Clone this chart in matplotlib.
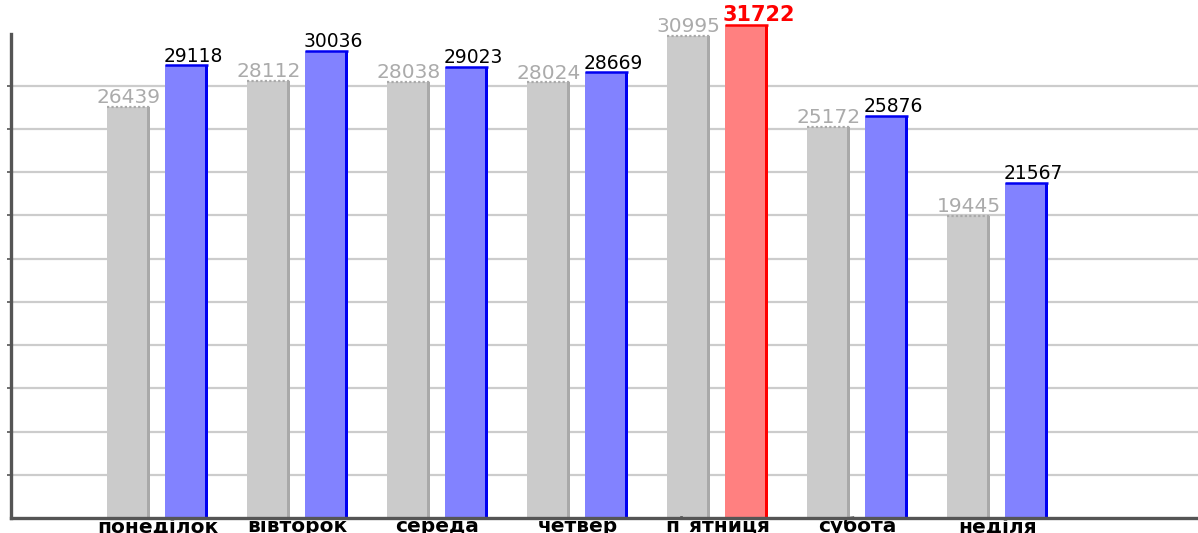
import numpy as np
import matplotlib
matplotlib.use("Agg")
import matplotlib.pyplot as plt

# ---- data ----
days = ["понеділок", "вівторок", "середа", "четвер", "п`ятниця", "субота", "неділя"]
previous = [26439, 28112, 28038, 28024, 30995, 25172, 19445]
current = [29118, 30036, 29023, 28669, 31722, 25876, 21567]

# ---- layout constants ----
W, H = 1198, 533
px_per_unit_x = 140.0          # pixels per category
group0_px = 157.5              # pixel x of first group centre
axis_left_px = 10.5
base_px_from_top = 518.3
val_per_px = 64.25
grid_step = 2780
axis_top_val = 31116

fig = plt.figure(figsize=(W / 100, H / 100), dpi=100)
ax = fig.add_axes([axis_left_px / W, (H - base_px_from_top) / H,
                   (W - axis_left_px) / W, base_px_from_top / H])

ax.set_ylim(0, base_px_from_top * val_per_px)
xl = -(group0_px - axis_left_px) / px_per_unit_x
xr = (W - group0_px) / px_per_unit_x
ax.set_xlim(xl, xr)

x = np.arange(len(days))
off = 29 / px_per_unit_x
w = 43 / px_per_unit_x
e = 3 / px_per_unit_x

xg = x - off
xb = x + off

hi = int(np.argmax(current))
fill_cur = ["#ff8080" if i == hi else "#8282ff" for i in range(len(days))]
edge_cur = ["#ff0000" if i == hi else "#0000f0" for i in range(len(days))]

# gray bars
ax.bar(xg, previous, width=w, color="#cbcbcb", zorder=3, linewidth=0)
ax.bar(xg + w / 2 - e / 2, previous, width=e, color="#a9a9a9", zorder=4, linewidth=0)
ax.hlines(previous, xg - w / 2, xg + w / 2, colors="#a9a9a9", linewidth=1.6,
          linestyles=(0, (1, 1)), zorder=5)

# current bars
ax.bar(xb, current, width=w, color=fill_cur, zorder=3, linewidth=0)
ax.bar(xb + w / 2 - e / 2, current, width=e, color=edge_cur, zorder=4, linewidth=0)
ax.hlines(current, xb - w / 2, xb + w / 2, colors=edge_cur, linewidth=1.8, zorder=5)

# value labels
for xi, v in zip(xg, previous):
    ax.annotate(f"{v}", (xi, v), xytext=(0, 2.5), textcoords="offset points",
                ha="center", va="baseline", fontsize=14.5, color="#ababab",
                family="DejaVu Sans", zorder=6, annotation_clip=False)
for i, (xi, v) in enumerate(zip(xb, current)):
    if i == hi:
        ax.annotate(f"{v}", (xi - w / 2, v), xytext=(-1.5, 2.5), textcoords="offset points",
                    ha="left", va="baseline", fontsize=15, color="#ff0000",
                    fontweight="bold", family="DejaVu Sans", zorder=6, annotation_clip=False)
    else:
        ax.annotate(f"{v}", (xi - w / 2, v), xytext=(-1, 2.5), textcoords="offset points",
                    ha="left", va="baseline", fontsize=13.5, color="#000000",
                    family="DejaVu Sans", zorder=6, annotation_clip=False)

# category labels
for xi, d in zip(x, days):
    ax.annotate(d, (xi, 0), xytext=(0, -10.2), textcoords="offset points",
                ha="center", va="baseline", fontsize=14.5, fontweight="bold",
                color="#000000", family="DejaVu Sans", annotation_clip=False)

# grid & axes
ax.set_yticks(np.arange(1, 11) * grid_step)
ax.set_yticklabels([])
ax.yaxis.grid(True, color="#cccccc", linewidth=1.6, zorder=0)
ax.set_axisbelow(True)
ax.set_xticks([])
ax.tick_params(axis="y", direction="out", length=3, width=1.2, color="#555555")

for s in ["top", "right"]:
    ax.spines[s].set_visible(False)
ax.spines["left"].set_color("#555555")
ax.spines["left"].set_linewidth(2.4)
ax.spines["left"].set_bounds(0, axis_top_val)
ax.spines["bottom"].set_color("#555555")
ax.spines["bottom"].set_linewidth(2.4)
ax.spines["bottom"].set_zorder(7)
ax.spines["left"].set_zorder(7)

fig.savefig("out.png", dpi=100)
